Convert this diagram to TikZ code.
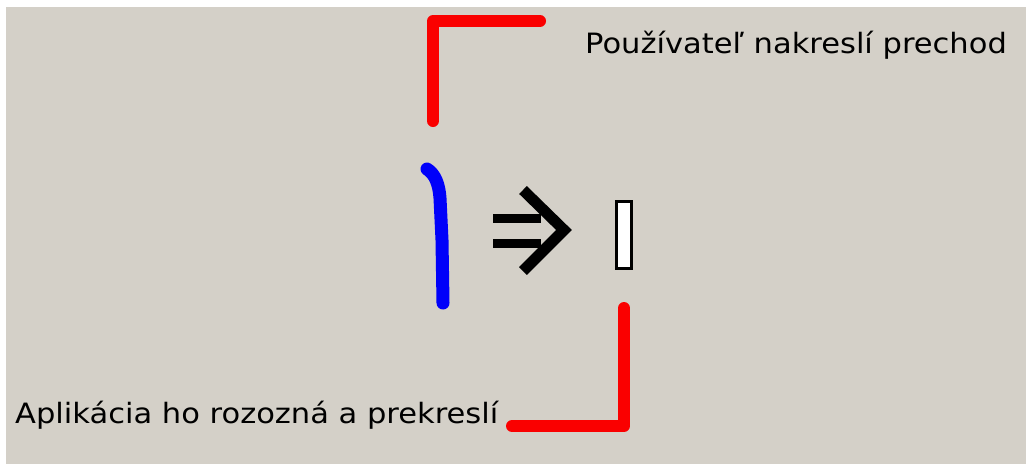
\documentclass[tikz,border=0pt]{standalone}
\usepackage{fontspec}
\setmainfont{DejaVu Sans}[FakeStretch=1.09]
\definecolor{bggray}{RGB}{212,208,200}
\definecolor{penred}{RGB}{250,0,0}
\definecolor{penblue}{RGB}{0,0,250}
\begin{document}
\begin{tikzpicture}[x=1pt,y=-1pt,
  redpen/.style={draw=penred,line width=12pt,line cap=round,line join=round},
  bluepen/.style={draw=penblue,line width=13pt,line cap=round,line join=round},
  blackpen/.style={draw=black,line width=9pt,line cap=butt,line join=miter},
  lbl/.style={font=\fontsize{28}{32}\selectfont,anchor=base west,inner sep=0pt,text=black}]
\useasboundingbox (0,0) rectangle (1026,464);
\fill[white] (0,0) rectangle (1026,464);
\fill[bggray] (6,7) rectangle (1026,464);
% top red L
\coordinate (t1) at (433,121);
\coordinate (t2) at (433,21);
\coordinate (t3) at (540,21);
\draw[redpen] (t1) -- (t2) -- (t3);
\node[lbl] (top) at (585,53) {Používateľ nakreslí prechod};
% blue stroke
\coordinate (b1) at (427,169);
\coordinate (b2) at (440,198);
\coordinate (b3) at (443,303);
\draw[bluepen] (b1) .. controls (435,174) and (439,184) .. (b2) -- (442,240) -- (b3);
% implies arrow
\coordinate (i1) at (493,218);
\coordinate (i2) at (541,218);
\coordinate (i3) at (493,243);
\coordinate (i4) at (541,243);
\draw[blackpen] (i1) -- (i2);
\draw[blackpen] (i3) -- (i4);
\coordinate (c1) at (523,190);
\coordinate (c2) at (564,230);
\coordinate (c3) at (523,271);
\draw[blackpen,line width=11pt] (c1) -- (c2) -- (c3);
% rectangle
\node[draw=black,line width=3pt,fill=white,minimum width=15pt,minimum height=67pt,inner sep=0pt] (rect) at (624,235) {};
% bottom red L
\coordinate (r1) at (624,308);
\coordinate (r2) at (624,426);
\coordinate (r3) at (512,426);
\draw[redpen] (r1) -- (r2) -- (r3);
\node[lbl] (bot) at (15,423) {Aplikácia ho rozozná a prekreslí};
\end{tikzpicture}
\end{document}
